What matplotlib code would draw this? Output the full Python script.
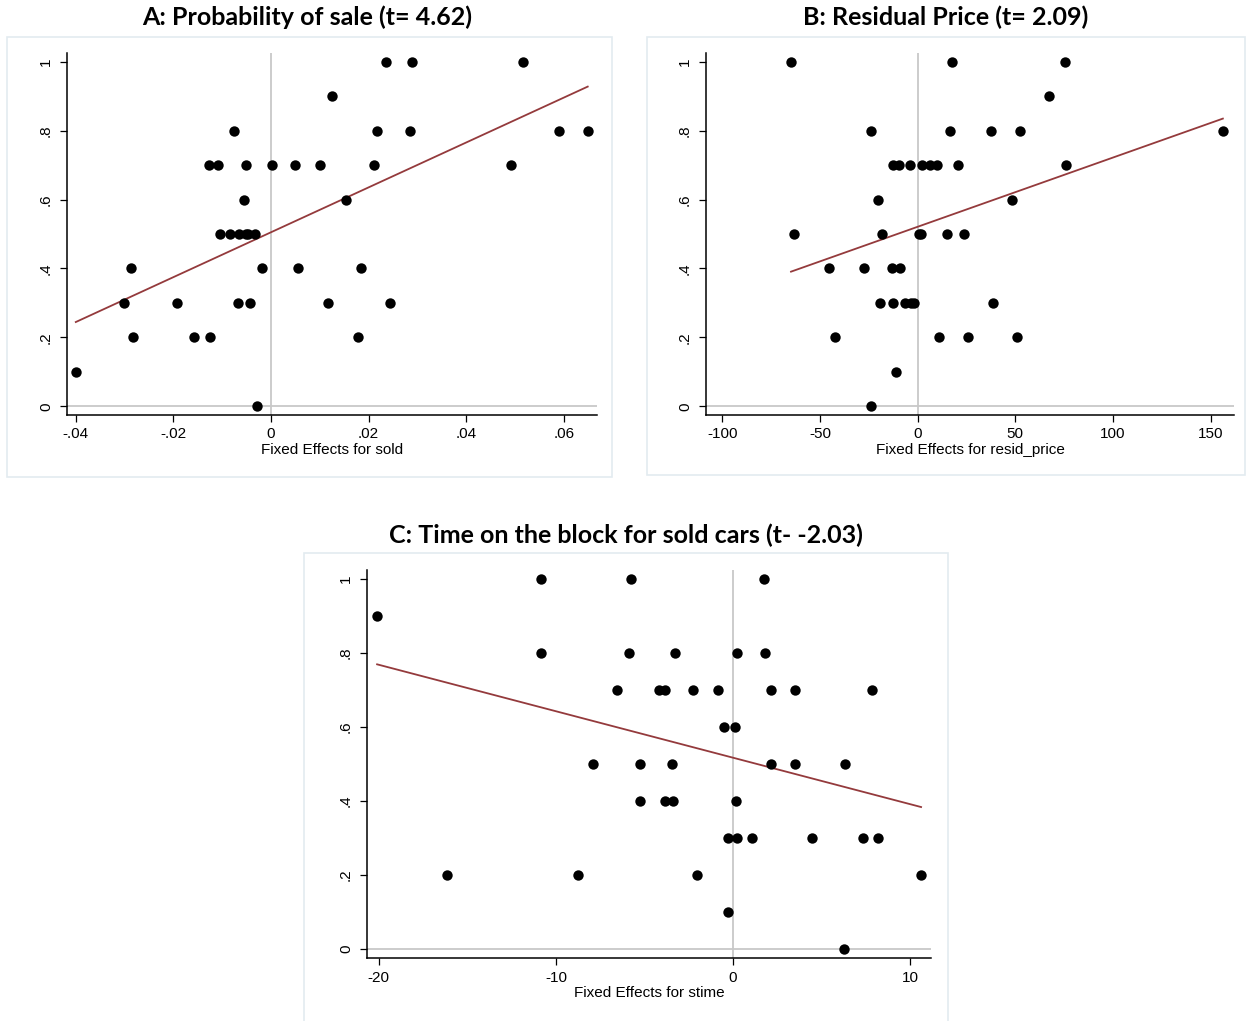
import numpy as np
import matplotlib
matplotlib.use("Agg")
import matplotlib.pyplot as plt
from matplotlib.patches import Rectangle

# Panel A: fixed effects for sold vs probability of sale
sold_fe = [0.0235, 0.0288, 0.0517,
           0.0126,
           -0.0075, 0.0217, 0.0285, 0.0590, 0.0649,
           -0.0128, -0.0109, -0.0052, 0.0002, 0.0050, 0.0101, 0.0212, 0.0492,
           -0.0056, 0.0154,
           -0.0105, -0.0083, -0.0065, -0.0052, -0.0047, -0.0033,
           -0.0286, -0.0018, 0.0055, 0.0184,
           -0.0302, -0.0193, -0.0067, -0.0044, 0.0116, 0.0243,
           -0.0283, -0.0157, -0.0124, 0.0178,
           -0.0400,
           -0.0028]
sold_y = [1, 1, 1,
          0.9,
          0.8, 0.8, 0.8, 0.8, 0.8,
          0.7, 0.7, 0.7, 0.7, 0.7, 0.7, 0.7, 0.7,
          0.6, 0.6,
          0.5, 0.5, 0.5, 0.5, 0.5, 0.5,
          0.4, 0.4, 0.4, 0.4,
          0.3, 0.3, 0.3, 0.3, 0.3, 0.3,
          0.2, 0.2, 0.2, 0.2,
          0.1,
          0.0]

# Panel B: fixed effects for resid_price
price_fe = [-64.8, 17.4, 75.2,
            67.3,
            -23.9, 16.4, 37.3, 52.5, 156.2,
            -12.7, -9.6, -4.0, 2.3, 6.1, 9.7, 20.5, 75.8,
            -20.3, 48.2,
            -63.2, -18.0, 0.5, 1.8, 15.0, 23.5,
            -45.2, -27.3, -13.2, -9.1,
            -19.1, -12.6, -6.4, -3.5, -2.0, 38.7,
            -42.1, 10.9, 25.9, 50.7,
            -11.3,
            -24.1]
price_y = [1, 1, 1,
           0.9,
           0.8, 0.8, 0.8, 0.8, 0.8,
           0.7, 0.7, 0.7, 0.7, 0.7, 0.7, 0.7, 0.7,
           0.6, 0.6,
           0.5, 0.5, 0.5, 0.5, 0.5, 0.5,
           0.4, 0.4, 0.4, 0.4,
           0.3, 0.3, 0.3, 0.3, 0.3, 0.3,
           0.2, 0.2, 0.2, 0.2,
           0.1,
           0.0]

# Panel C: fixed effects for stime
stime_fe = [-10.82, -5.76, 1.76,
            -20.09,
            -10.82, -5.85, -3.30, 0.23, 1.78,
            -6.56, -4.19, -3.82, -2.25, -0.87, 2.15, 3.47, 7.82,
            -0.49, 0.09,
            -7.92, -5.27, -3.47, 2.13, 3.49, 6.32,
            -5.25, -3.82, -3.40, 0.14,
            -0.26, 0.23, 1.08, 4.45, 7.33, 8.20,
            -16.14, -8.74, -2.01, 10.61,
            -0.28,
            6.28]
stime_y = [1, 1, 1,
           0.9,
           0.8, 0.8, 0.8, 0.8, 0.8,
           0.7, 0.7, 0.7, 0.7, 0.7, 0.7, 0.7, 0.7,
           0.6, 0.6,
           0.5, 0.5, 0.5, 0.5, 0.5, 0.5,
           0.4, 0.4, 0.4, 0.4,
           0.3, 0.3, 0.3, 0.3, 0.3, 0.3,
           0.2, 0.2, 0.2, 0.2,
           0.1,
           0.0]

y_ticks = [0, 0.2, 0.4, 0.6, 0.8, 1]
y_ticklabels = ["0", ".2", ".4", ".6", ".8", "1"]

W, H = 1247, 1021
fig = plt.figure(figsize=(W / 100, H / 100), dpi=100)

FIT_COLOR = "#943a3c"
ZERO_COLOR = "#c8c8c8"
BOX_COLOR = "#e3ebf0"


def px_rect(x0, y0, x1, y1):
    # pixel box (top-left origin) -> figure fraction [l, b, w, h]
    return [x0 / W, 1 - y1 / H, (x1 - x0) / W, (y1 - y0) / H]


def panel(axbox, outer, title, title_xy, x, y, xlim, xticks, xticklabels, xlabel):
    l, b, w, h = px_rect(*outer)
    fig.patches.append(Rectangle((l, b), w, h, transform=fig.transFigure,
                                 fill=False, edgecolor=BOX_COLOR, lw=1.2))
    fig.text(title_xy[0] / W, 1 - title_xy[1] / H, title, ha="center", va="center",
             fontsize=18, fontweight="bold", family="Lato")

    ax = fig.add_axes(px_rect(*axbox))
    x = np.asarray(x)
    y = np.asarray(y)
    ax.axvline(0, color=ZERO_COLOR, lw=1.3, zorder=1)
    ax.axhline(0, color=ZERO_COLOR, lw=1.3, zorder=1)
    ax.scatter(x, y, s=56, color="black", zorder=3, linewidths=0)
    # linear fit over the range of x
    slope, icpt = np.polyfit(x, y, 1)
    xs = np.array([x.min(), x.max()])
    ax.plot(xs, icpt + slope * xs, color=FIT_COLOR, lw=1.3, zorder=2)

    ax.set_xlim(*xlim)
    ax.set_ylim(-0.025, 1.025)
    ax.set_xticks(xticks)
    ax.set_xticklabels(xticklabels, family="Liberation Sans", fontsize=11)
    ax.set_yticks(y_ticks)
    ax.set_yticklabels(y_ticklabels, family="Liberation Sans", fontsize=11,
                       rotation=90, va="center")
    ax.set_xlabel(xlabel, family="Liberation Sans", fontsize=11, labelpad=1)
    for s in ("top", "right"):
        ax.spines[s].set_visible(False)
    for s in ("left", "bottom"):
        ax.spines[s].set_linewidth(1.1)
    ax.tick_params(axis="x", direction="out", length=5, width=0.9, pad=4)
    ax.tick_params(axis="y", direction="out", length=5, width=0.9, pad=5)
    return ax


panel((67, 53, 597, 415), (7, 37, 612, 477),
      "A: Probability of sale (t= 4.62)", (307, 17),
      sold_fe, sold_y, (-0.0418, 0.0668),
      [-0.04, -0.02, 0, 0.02, 0.04, 0.06],
      ["-.04", "-.02", "0", ".02", ".04", ".06"],
      "Fixed Effects for sold")

panel((706, 53, 1234, 415), (647, 37, 1245, 475),
      "B: Residual Price (t= 2.09)", (946, 17),
      price_fe, price_y, (-108.3, 161.9),
      [-100, -50, 0, 50, 100, 150],
      ["-100", "-50", "0", "50", "100", "150"],
      "Fixed Effects for resid_price")

panel((367, 570, 931, 958), (304, 553, 948, 1025),
      "C: Time on the block for sold cars (t- -2.03)", (626, 535),
      stime_fe, stime_y, (-20.66, 11.17),
      [-20, -10, 0, 10],
      ["-20", "-10", "0", "10"],
      "Fixed Effects for stime")

fig.savefig("out.png", dpi=100, facecolor="white")
